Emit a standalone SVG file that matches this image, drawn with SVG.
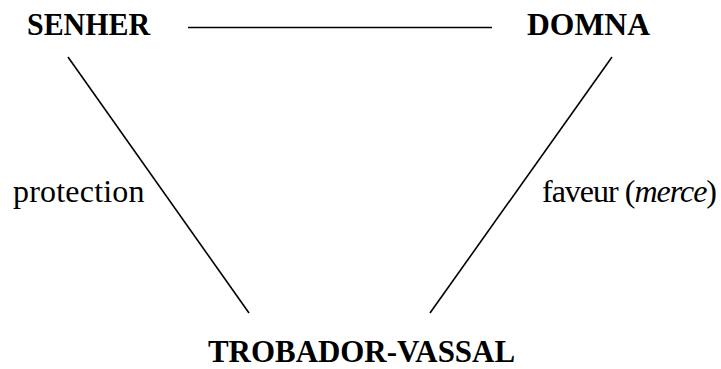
<svg xmlns="http://www.w3.org/2000/svg" width="721" height="369" viewBox="0 0 721 369">
<style>
.n{font-family:"Liberation Serif","Times New Roman",serif;font-weight:bold;font-size:32px;fill:#000}
.l{font-family:"Liberation Serif","Times New Roman",serif;font-size:32px;fill:#000}
.c{stroke:#000;stroke-width:1.6;fill:none}
</style>
<rect width="721" height="369" fill="#fff"/>
<g id="senher"><text class="n" x="27" y="35" textLength="123" lengthAdjust="spacingAndGlyphs">SENHER</text></g>
<g id="domna"><text class="n" x="527" y="35" textLength="123" lengthAdjust="spacingAndGlyphs">DOMNA</text></g>
<g id="trobador"><text class="n" x="208" y="362" font-size="29" textLength="307" lengthAdjust="spacingAndGlyphs">TROBADOR-VASSAL</text></g>
<g id="connectors">
<line class="c" x1="188" y1="27.5" x2="492" y2="27.5"/>
<line class="c" x1="68" y1="57" x2="249" y2="313"/>
<line class="c" x1="612" y1="57" x2="430" y2="313"/>
</g>
<g id="labels">
<text class="l" x="13" y="202" letter-spacing="0.2">protection</text>
<text class="l" x="542" y="202" letter-spacing="-1">faveur (<tspan font-style="italic">merce</tspan>)</text>
</g>
</svg>
